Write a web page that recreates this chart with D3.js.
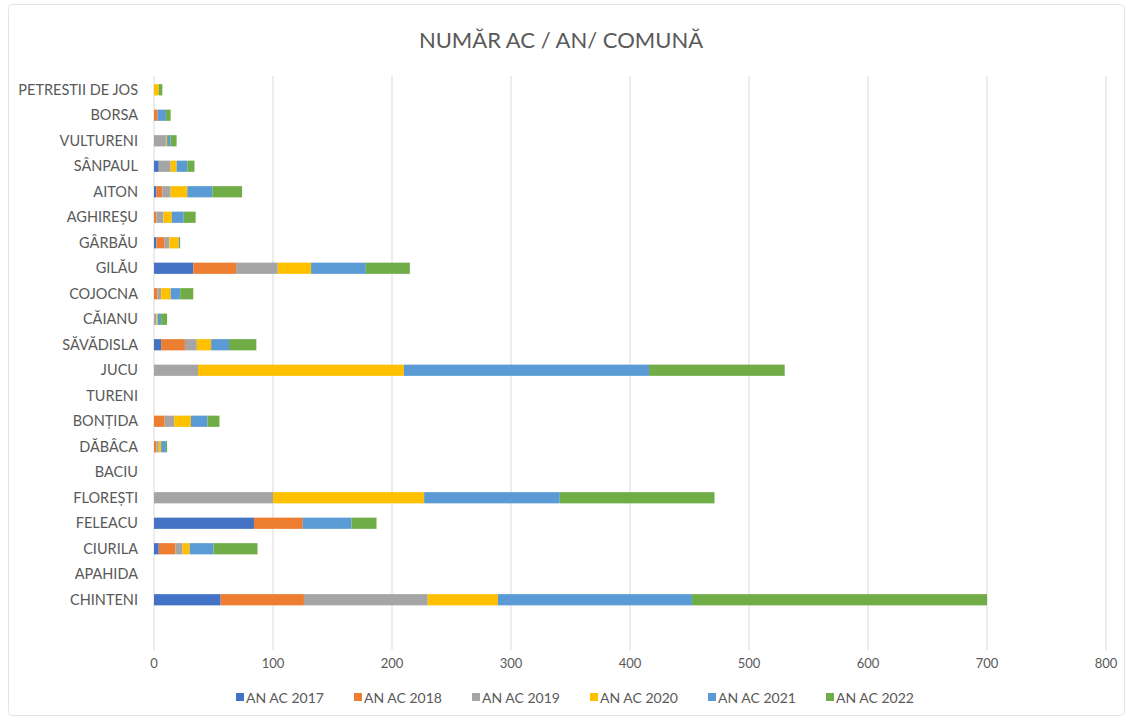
<!DOCTYPE html>
<html lang="ro">
<head>
    <meta charset="UTF-8">
    <title>Număr AC / an / comună</title>
    <script src="https://d3js.org/d3.v7.min.js"></script>
    <style>
        body { margin: 0; background: #fff; }
        text { font-family: Lato, "Open Sans", sans-serif; fill: #595959; }
        .grid line { stroke: #d9d9d9; stroke-width: 1px; }
    </style>
</head>
<body>
    <svg width="1130" height="722"></svg>
    <script>
    // communes, top to bottom as in the chart
    const communes = ["PETRESTII DE JOS", "BORSA", "VULTURENI", "SÂNPAUL", "AITON", "AGHIREȘU",
        "GÂRBĂU", "GILĂU", "COJOCNA", "CĂIANU", "SĂVĂDISLA", "JUCU", "TURENI", "BONȚIDA",
        "DĂBÂCA", "BACIU", "FLOREȘTI", "FELEACU", "CIURILA", "APAHIDA", "CHINTENI"];

    const years = ["AN AC 2017", "AN AC 2018", "AN AC 2019", "AN AC 2020", "AN AC 2021", "AN AC 2022"];

    // values per year, same order as communes
    const ac2017 = [0, 0, 0, 4, 2, 0, 2, 33, 0, 0, 6, 0, 0, 0, 0, 0, 0, 84, 4, 0, 56];
    const ac2018 = [0, 3, 0, 0, 5, 2, 7, 36, 3, 0, 20, 0, 0, 9, 2, 0, 0, 41, 14, 0, 70];
    const ac2019 = [0, 0, 10, 10, 7, 6, 4, 35, 3, 2, 10, 37, 0, 8, 2, 0, 100, 0, 6, 0, 104];
    const ac2020 = [4, 0, 1, 5, 14, 7, 8, 28, 8, 1, 12, 173, 0, 14, 2, 0, 127, 0, 6, 0, 59];
    const ac2021 = [0, 7, 3, 9, 21, 10, 1, 46, 8, 3, 15, 206, 0, 14, 4, 0, 114, 41, 20, 0, 163];
    const ac2022 = [3, 4, 5, 6, 25, 10, 0, 37, 11, 5, 23, 114, 0, 10, 1, 0, 130, 21, 37, 0, 248];

    const xTicks = [0, 100, 200, 300, 400, 500, 600, 700, 800];
    const colors = ["#4472C4", "#ED7D31", "#A5A5A5", "#FFC000", "#5B9BD5", "#70AD47"];

    const series = [ac2017, ac2018, ac2019, ac2020, ac2021, ac2022];
    const rows = communes.map((c, i) => {
        const r = { commune: c };
        years.forEach((y, k) => r[y] = series[k][i]);
        return r;
    });

    const svg = d3.select("svg");

    // chart frame
    svg.append("rect")
        .attr("x", 8.5).attr("y", 4.5)
        .attr("width", 1116).attr("height", 711)
        .attr("rx", 4)
        .attr("fill", "#fff")
        .attr("stroke", "#e3e3e3");

    const plotTop = 76, plotBottom = 650;

    const x = d3.scaleLinear().domain([0, 800]).range([154, 1106]);
    const y = d3.scaleBand()
        .domain(communes)
        .range([77, 77 + communes.length * 25.5])
        .paddingInner(0.56)
        .paddingOuter(0.28);

    // vertical gridlines
    svg.append("g").attr("class", "grid")
        .selectAll("line")
        .data(xTicks)
        .join("line")
        .attr("x1", d => x(d)).attr("x2", d => x(d))
        .attr("y1", plotTop).attr("y2", plotBottom);

    // stacked bars
    const stack = d3.stack().keys(years);
    const layers = stack(rows);

    svg.append("g")
        .selectAll("g")
        .data(layers)
        .join("g")
        .attr("fill", (d, i) => colors[i])
        .selectAll("rect")
        .data(d => d)
        .join("rect")
        .attr("x", d => x(d[0]))
        .attr("y", d => y(d.data.commune))
        .attr("width", d => x(d[1]) - x(d[0]))
        .attr("height", y.bandwidth());

    // category labels
    svg.append("g")
        .selectAll("text")
        .data(communes)
        .join("text")
        .attr("x", 138)
        .attr("y", d => y(d) + y.bandwidth() / 2)
        .attr("dy", "0.35em")
        .attr("text-anchor", "end")
        .attr("font-size", 14.5)
        .text(d => d);

    // x tick labels
    svg.append("g")
        .selectAll("text")
        .data(xTicks)
        .join("text")
        .attr("x", d => x(d))
        .attr("y", 668)
        .attr("text-anchor", "middle")
        .attr("font-size", 13)
        .text(d => d);

    // title
    svg.append("text")
        .attr("x", 561)
        .attr("y", 48)
        .attr("text-anchor", "middle")
        .attr("font-size", 22)
        .text("NUMĂR AC / AN/ COMUNĂ");

    // legend
    const legend = svg.append("g")
        .selectAll("g")
        .data(years)
        .join("g")
        .attr("transform", (d, i) => `translate(${236 + i * 118},698)`);

    legend.append("rect")
        .attr("x", 0).attr("y", -5)
        .attr("width", 8).attr("height", 8)
        .attr("fill", (d, i) => colors[i]);

    legend.append("text")
        .attr("x", 10)
        .attr("y", 0)
        .attr("dy", "0.35em")
        .attr("font-size", 14)
        .text(d => d);
    </script>
</body>
</html>
